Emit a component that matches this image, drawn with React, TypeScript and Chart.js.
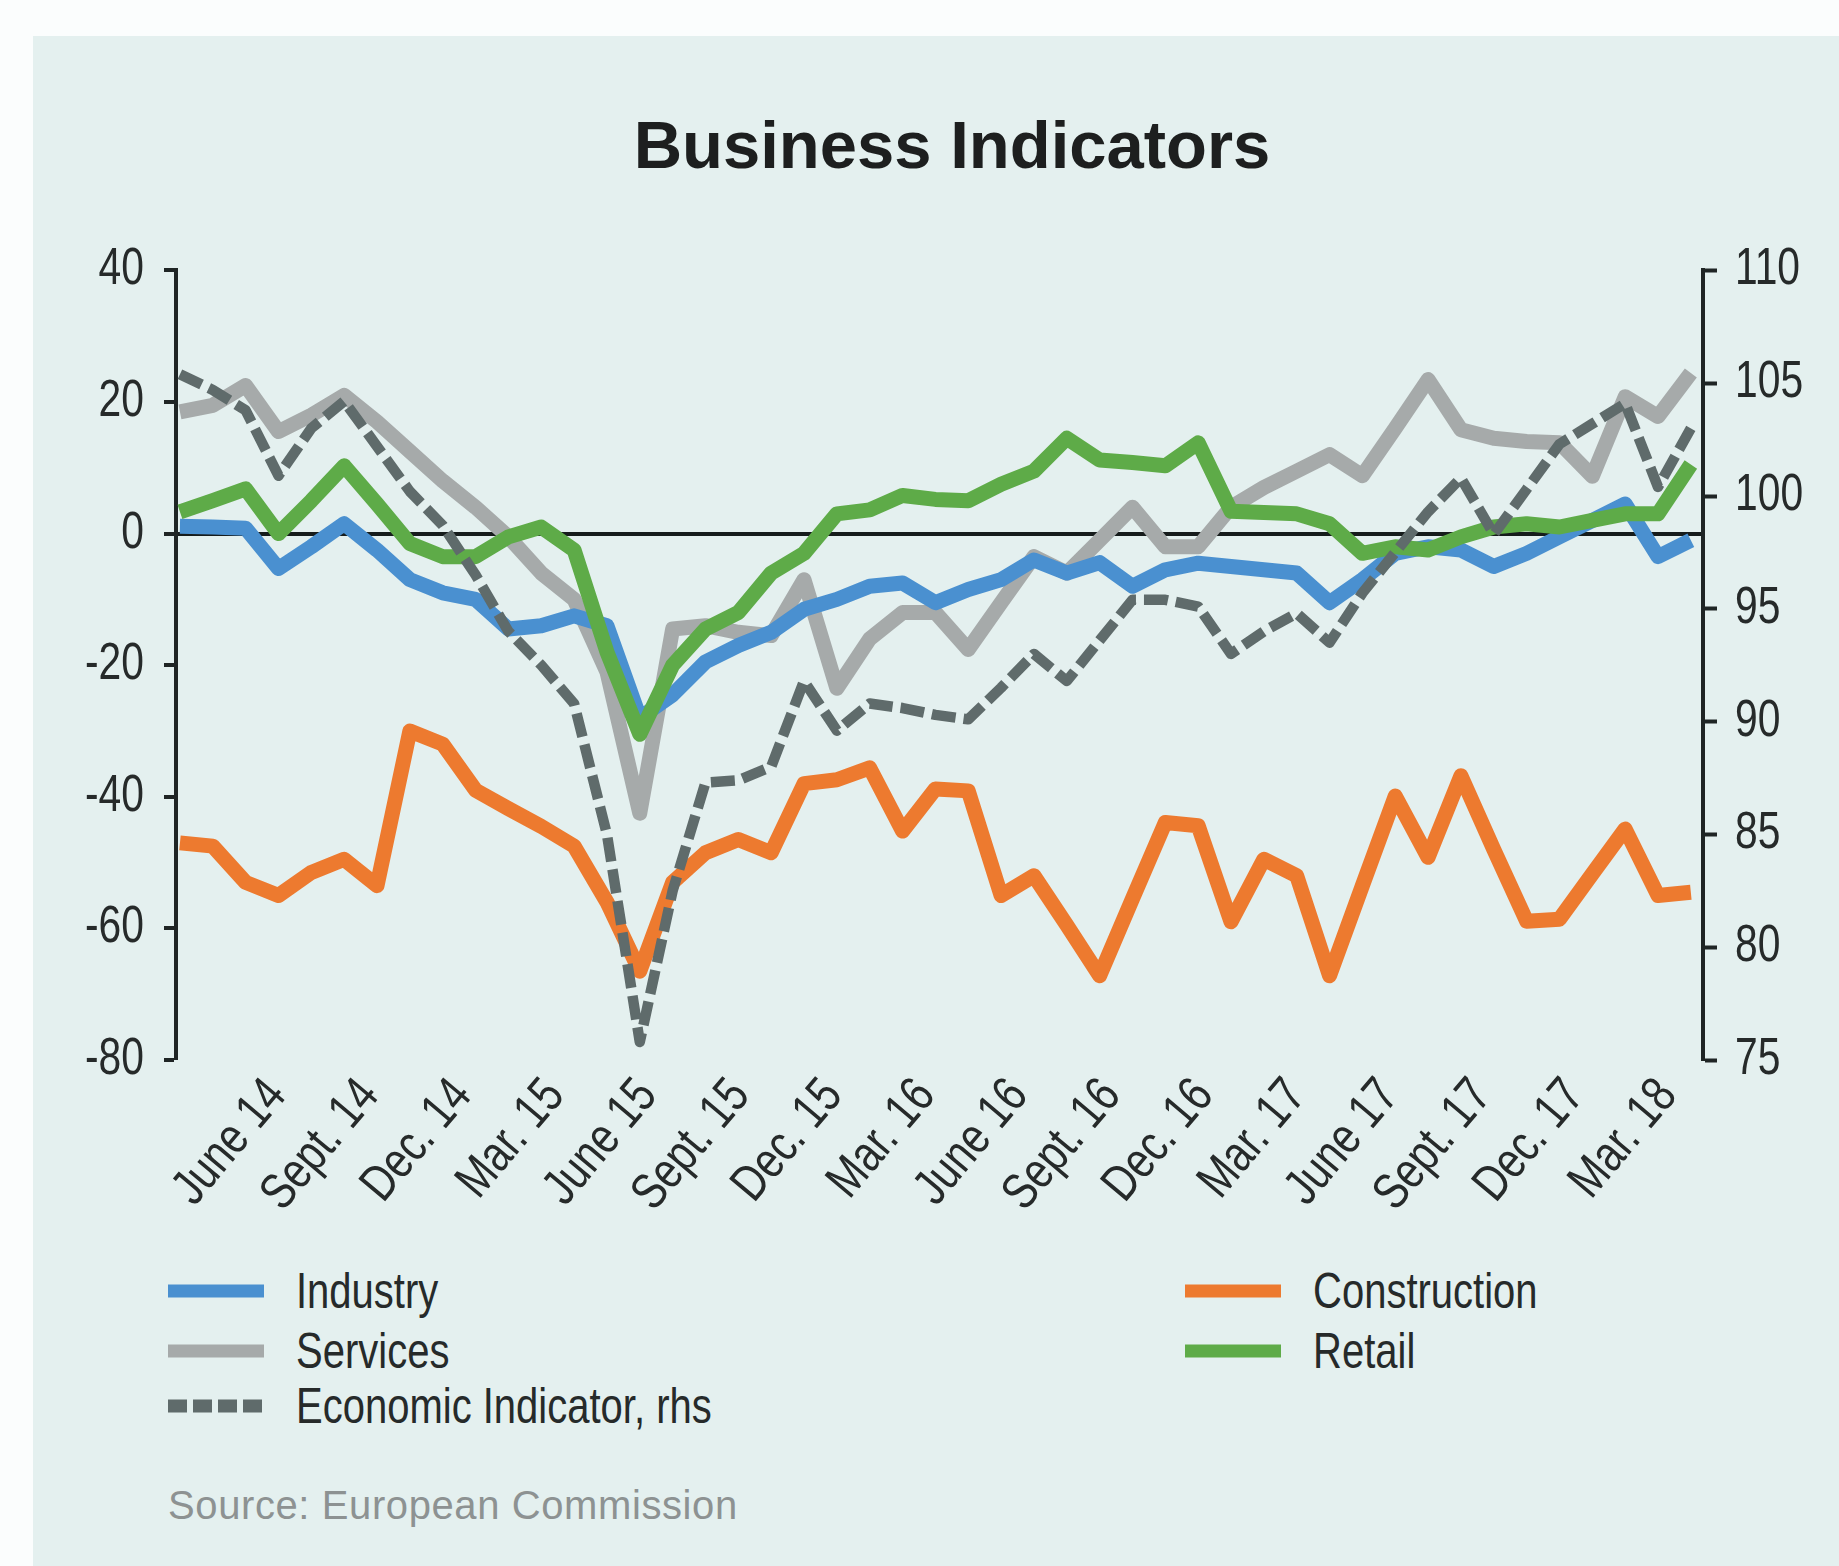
import React, { useEffect, useRef } from "react";
import { Chart, registerables } from "chart.js";

Chart.register(...registerables);

// ---------------- data ----------------
const QUARTER_LABELS = [
  "June 14", "Sept. 14", "Dec. 14", "Mar. 15", "June 15", "Sept. 15", "Dec. 15", "Mar. 16",
  "June 16", "Sept. 16", "Dec. 16", "Mar. 17", "June 17", "Sept. 17", "Dec. 17", "Mar. 18",
];

const INDUSTRY = [
  1.1, 1.0, 0.8, -5.3, -2.0, 1.5, -2.5, -7.0, -9.0, -10.0, -14.5, -14.0, -12.5, -14.0, -28.0, -24.5,
  -19.5, -17.0, -15.0, -11.5, -10.0, -8.0, -7.5, -10.5, -8.5, -7.0, -4.0, -6.0, -4.4, -8.0, -5.5, -4.5,
  -5.0, -5.5, -6.0, -10.5, -7.0, -3.0, -2.0, -2.5, -5.0, -3.0, -0.5, 2.0, 4.5, -3.5, -1.0,
];

const SERVICES = [
  18.5, 19.5, 22.5, 15.5, 18.0, 21.0, 17.0, 12.5, 8.0, 4.0, -0.5, -6.0, -10.0, -21.0, -42.5, -14.5,
  -14.0, -15.0, -15.5, -7.0, -23.5, -16.0, -12.0, -12.0, -17.6, -10.5, -3.5, -6.0, -1.0, 4.0, -2.0, -2.0,
  4.0, 7.0, 9.5, 12.0, 8.8, 16.0, 23.4, 15.8, 14.5, 14.0, 13.8, 8.7, 20.8, 17.8, 24.4,
];

const CONSTRUCTION = [
  -47.0, -47.5, -53.0, -55.0, -51.5, -49.5, -53.5, -30.0, -32.0, -39.0, -41.8, -44.5, -47.5, -56.0, -66.5, -53.0,
  -48.5, -46.5, -48.5, -38.0, -37.4, -35.6, -45.2, -38.8, -39.1, -55.0, -52.0, -59.5, -67.2, -55.5, -43.9, -44.4,
  -59.0, -49.5, -52.0, -67.2, -53.5, -39.9, -49.2, -36.8, -48.0, -58.9, -58.6, -51.7, -44.9, -55.0, -54.5,
];

const RETAIL = [
  3.3, 5.0, 6.8, 0.0, 5.0, 10.3, 4.5, -1.5, -3.5, -3.5, -0.5, 1.0, -2.5, -18.0, -30.5, -20.0,
  -14.5, -12.0, -6.0, -3.0, 3.0, 3.6, 5.8, 5.2, 5.0, 7.5, 9.5, 14.5, 11.2, 10.8, 10.3, 13.8,
  3.4, 3.2, 3.0, 1.5, -3.0, -2.0, -2.5, -0.5, 1.0, 1.5, 1.0, 2.0, 3.0, 3.0, 10.5,
];

const ECONOMIC = [
  105.4, 104.7, 103.8, 100.9, 103.0, 104.2, 102.2, 100.2, 98.7, 96.5, 94.0, 92.5, 90.8, 85.0, 75.8, 82.5,
  87.3, 87.4, 88.0, 91.8, 89.6, 90.8, 90.6, 90.3, 90.1, 91.5, 93.0, 91.8, 93.6, 95.4, 95.4, 95.1,
  93.0, 94.0, 94.8, 93.5, 95.7, 97.5, 99.3, 100.8, 98.3, 100.3, 102.3, 103.2, 104.1, 100.4, 103.0,
];

const LEFT_RANGE = [-80, 40];
const LEFT_STEP = 20;
const RIGHT_RANGE = [75, 110];
const RIGHT_STEP = 5;

// ---------------- styles ----------------
const SANS = '"Liberation Sans", Arial, sans-serif';
const NARROW_SCALE = 0.8; // horizontal compression for the condensed lettering
const TICK_FONT = `51px ${SANS}`;
const LABEL_ROTATION_DEG = 50;
const C_INDUSTRY = "#4a90d0";
const C_SERVICES = "#a6aaaa";
const C_CONSTRUCTION = "#ed7a2f";
const C_RETAIL = "#5eab48";
const C_ECON = "#5f6b6b";
const C_AXIS = "#1f2525";
const C_TEXT = "#262a2a";
const PANEL = "#e4f0ef";

const CANVAS_W = 1774;
const CANVAS_H = 1210;

// draws the axis tick labels in a condensed (horizontally compressed) face,
// at the positions given by the chart's own scales
const condensedTickLabels = {
  id: "condensedTickLabels",
  afterDraw(chart: any) {
    const ctx = chart.ctx as CanvasRenderingContext2D;
    const area = chart.chartArea;
    ctx.save();
    ctx.fillStyle = C_TEXT;
    ctx.font = TICK_FONT;
    ctx.textBaseline = "middle";

    const ys = chart.scales.y;
    ys.ticks.forEach((t: any) => {
      const y = ys.getPixelForValue(t.value);
      ctx.save();
      ctx.translate(area.left - 32, y);
      ctx.scale(NARROW_SCALE, 1);
      ctx.textAlign = "right";
      ctx.fillText(String(t.label), 0, 0);
      ctx.restore();
    });

    const yr = chart.scales.y1;
    yr.ticks.forEach((t: any) => {
      const y = yr.getPixelForValue(t.value);
      ctx.save();
      ctx.translate(area.right + 32, y);
      ctx.scale(NARROW_SCALE, 1);
      ctx.textAlign = "left";
      ctx.fillText(String(t.label), 0, 0);
      ctx.restore();
    });

    const xs = chart.scales.xm;
    const rot = (LABEL_ROTATION_DEG * Math.PI) / 180;
    xs.ticks.forEach((t: any) => {
      const x = xs.getPixelForValue(t.value);
      ctx.save();
      ctx.translate(x, area.bottom + 27);
      ctx.rotate(-rot);
      ctx.scale(NARROW_SCALE, 1);
      ctx.textAlign = "right";
      ctx.fillText(String(t.label), 0, 0);
      ctx.restore();
    });
    ctx.restore();
  },
};

export default function App() {
  const canvasRef = useRef<HTMLCanvasElement | null>(null);

  useEffect(() => {
    const canvas = canvasRef.current;
    if (!canvas) return;
    const pts = (arr: number[]) => arr.map((y, i) => ({ x: i, y }));
    const n = INDUSTRY.length;

    const chart = new Chart(canvas, {
      type: "line",
      data: {
        datasets: [
          {
            label: "Economic Indicator, rhs",
            data: pts(ECONOMIC),
            xAxisID: "x",
            yAxisID: "y1",
            borderColor: C_ECON,
            borderWidth: 10.5,
            borderDash: [24, 8],
            order: 0,
          },
          { label: "Retail", data: pts(RETAIL), xAxisID: "x", yAxisID: "y", borderColor: C_RETAIL, borderWidth: 15, order: 1 },
          { label: "Industry", data: pts(INDUSTRY), xAxisID: "x", yAxisID: "y", borderColor: C_INDUSTRY, borderWidth: 15, order: 2 },
          { label: "Services", data: pts(SERVICES), xAxisID: "x", yAxisID: "y", borderColor: C_SERVICES, borderWidth: 15, order: 3 },
          { label: "Construction", data: pts(CONSTRUCTION), xAxisID: "x", yAxisID: "y", borderColor: C_CONSTRUCTION, borderWidth: 15, order: 4 },
        ],
      },
      options: {
        responsive: false,
        animation: false,
        devicePixelRatio: 1,
        layout: { padding: 0 },
        elements: {
          line: { tension: 0, borderJoinStyle: "round", borderCapStyle: "butt", fill: false },
          point: { radius: 0, hoverRadius: 0 },
        },
        plugins: {
          legend: { display: false },
          tooltip: { enabled: false },
          title: {
            display: true,
            text: "Business Indicators",
            color: "#1d1f1f",
            font: { family: SANS, size: 67, weight: "bold", lineHeight: 1.2 },
            padding: { top: 73, bottom: 81 },
          },
        },
        scales: {
          x: {
            type: "linear",
            display: false,
            min: -0.12,
            max: n - 1 + 0.37,
          },
          xm: {
            type: "linear",
            position: "bottom",
            min: -1.09,
            max: 15.38,
            afterBuildTicks: (scale: any) => {
              scale.ticks = QUARTER_LABELS.map((_, k) => ({ value: k }));
            },
            afterFit: (scale: any) => {
              scale.height = CANVAS_H - 1024;
            },
            grid: { display: false, drawTicks: false },
            border: { display: false },
            ticks: {
              display: false,
              autoSkip: false,
              callback: (v: any) => QUARTER_LABELS[Math.round(Number(v))] ?? "",
            },
          },
          y: {
            type: "linear",
            position: "left",
            min: LEFT_RANGE[0],
            max: LEFT_RANGE[1],
            afterFit: (scale: any) => {
              scale.width = 111;
            },
            ticks: { stepSize: LEFT_STEP, display: false },
            grid: {
              drawOnChartArea: true,
              drawTicks: true,
              tickLength: 12,
              tickWidth: 4,
              tickColor: C_AXIS,
              color: (ctx: any) => (ctx.tick && ctx.tick.value === 0 ? "#161c1c" : "rgba(0,0,0,0)"),
              lineWidth: (ctx: any) => (ctx.tick && ctx.tick.value === 0 ? 4 : 0),
            },
            border: { display: true, color: C_AXIS, width: 4 },
          },
          y1: {
            type: "linear",
            position: "right",
            min: RIGHT_RANGE[0],
            max: RIGHT_RANGE[1],
            afterFit: (scale: any) => {
              scale.width = CANVAS_W - 1638;
            },
            ticks: { stepSize: RIGHT_STEP, display: false },
            grid: {
              drawOnChartArea: false,
              drawTicks: true,
              tickLength: 14,
              tickWidth: 4,
              tickColor: C_AXIS,
            },
            border: { display: true, color: C_AXIS, width: 4 },
          },
        },
      } as any,
      plugins: [condensedTickLabels],
    });
    return () => chart.destroy();
  }, []);

  const legend = [
    { label: "Industry", color: C_INDUSTRY, dashed: false, x: 135, y: 1255 },
    { label: "Services", color: C_SERVICES, dashed: false, x: 135, y: 1315 },
    { label: "Economic Indicator, rhs", color: C_ECON, dashed: true, x: 135, y: 1370 },
    { label: "Construction", color: C_CONSTRUCTION, dashed: false, x: 1152, y: 1255 },
    { label: "Retail", color: C_RETAIL, dashed: false, x: 1152, y: 1315 },
  ];

  return (
    <div style={{ position: "absolute", left: 0, top: 0, width: 1839, height: 1566, background: "#fbfdfd", overflow: "hidden" }}>
      <div style={{ position: "absolute", left: 33, top: 36, width: 1806, height: 1530, background: PANEL }}>
        <canvas
          ref={canvasRef}
          width={CANVAS_W}
          height={CANVAS_H}
          style={{ position: "absolute", left: 32, top: 0, width: CANVAS_W, height: CANVAS_H }}
        />
        {legend.map((it) => (
          <div
            key={it.label}
            style={{ position: "absolute", left: it.x, top: it.y - 30, height: 60, display: "flex", alignItems: "center" }}
          >
            <svg width={96} height={14} style={{ display: "block", flex: "none" }}>
              <line
                x1={0}
                y1={7}
                x2={96}
                y2={7}
                stroke={it.color}
                strokeWidth={13}
                strokeDasharray={it.dashed ? "19 6" : undefined}
              />
            </svg>
            <span
              style={{
                marginLeft: 32,
                fontFamily: SANS,
                fontSize: 50,
                color: C_TEXT,
                lineHeight: "60px",
                whiteSpace: "nowrap",
                display: "inline-block",
                transform: `scaleX(${NARROW_SCALE})`,
                transformOrigin: "left center",
              }}
            >
              {it.label}
            </span>
          </div>
        ))}
        <div
          style={{
            position: "absolute",
            left: 135,
            top: 1445,
            fontFamily: SANS,
            fontSize: 40,
            lineHeight: "48px",
            letterSpacing: "0.6px",
            color: "#8d9292",
            whiteSpace: "nowrap",
          }}
        >
          Source: European Commission
        </div>
      </div>
    </div>
  );
}
